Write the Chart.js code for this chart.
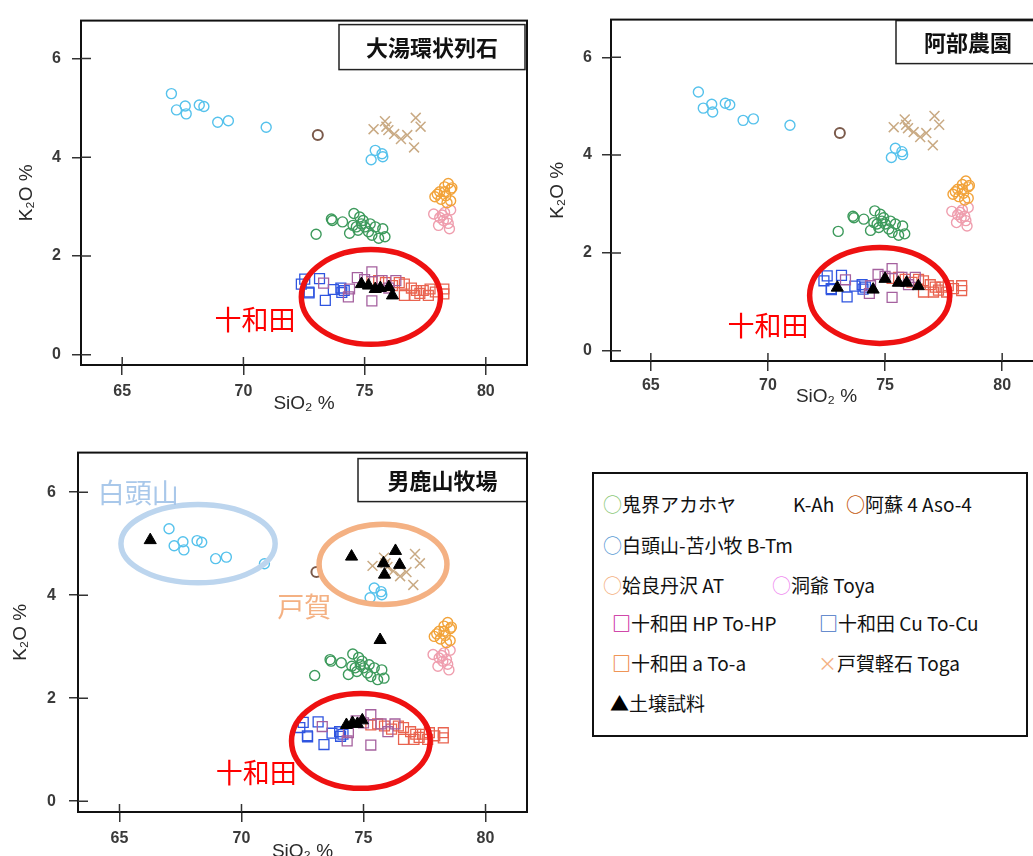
<!DOCTYPE html>
<html>
<head>
<meta charset="utf-8">
<script src="https://cdn.jsdelivr.net/npm/chart.js@4.4.1/dist/chart.umd.min.js"></script>
<style>
body { margin: 0; background: #fff; }
#page { position: relative; width: 1033px; height: 856px; overflow: hidden; background: #fff; }
canvas { position: absolute; }
#legend { position: absolute; left: 592px; top: 472px; width: 432px; height: 261px; border: 2px solid #111;
          font-family: "Noto Sans CJK JP"; font-size: 19px; color: #111; }
.item { position: absolute; white-space: pre; line-height: 40px; height: 40px; }
</style>
</head>
<body>
<div id="page">
  <canvas id="chart-oyu" width="540" height="420" style="left:0;top:0"></canvas>
  <canvas id="chart-abe" width="520" height="420" style="left:540px;top:0"></canvas>
  <canvas id="chart-oga" width="540" height="440" style="left:0;top:430px"></canvas>
  <div id="legend"></div>
</div>
<script>
// Tephra reference data [SiO2 %, K2O %] (same in all three plots)
var kAh = [[73.0, 2.44], [73.63, 2.75], [73.67, 2.72], [74.09, 2.69], [74.38, 2.46], [74.56, 2.86],
    [74.8, 2.79], [74.52, 2.62], [74.73, 2.52], [74.87, 2.65], [75.01, 2.59], [75.23, 2.65],
    [75.3, 2.42], [75.44, 2.59], [75.58, 2.36], [75.75, 2.55], [75.84, 2.39], [75.16, 2.49],
    [74.66, 2.59], [74.94, 2.72]];
var aso4 = [[73.07, 4.45]];
var bTm = [[67.03, 5.29], [67.24, 4.96], [67.6, 5.04], [67.64, 4.88], [68.18, 5.06], [68.37, 5.03],
    [68.94, 4.71], [69.38, 4.74], [70.94, 4.61], [75.27, 3.95], [75.44, 4.14], [75.72, 4.07], [75.75, 4.01]];
var at = [[77.9, 3.2], [78.1, 3.3], [78.3, 3.4], [78.45, 3.47], [78.55, 3.35], [78.35, 3.22],
    [78.15, 3.15], [78.55, 3.12], [78.3, 3.3], [78.6, 3.38], [78.0, 3.25], [78.4, 3.08]];
var toya = [[77.85, 2.85], [78.1, 2.78], [78.3, 2.88], [78.55, 2.93], [78.25, 2.72], [78.45, 2.66],
    [78.05, 2.62], [78.5, 2.55], [78.2, 2.83], [78.4, 2.75]];
var toHP = [[73.31, 1.45], [74.33, 1.17], [74.7, 1.56], [75.3, 1.68], [75.3, 1.09], [75.72, 1.5],
    [76.29, 1.5], [74.38, 1.33], [75.0, 1.52], [76.0, 1.35]];
var toCu = [[72.39, 1.43], [72.53, 1.53], [72.71, 1.25], [73.14, 1.54], [73.38, 1.1], [73.71, 1.32],
    [74.02, 1.35], [74.06, 1.26], [74.16, 1.3], [72.7, 1.27]];
var toA = [[75.3, 1.48], [75.58, 1.5], [75.86, 1.46], [76.15, 1.4], [76.43, 1.46], [76.64, 1.43],
    [76.64, 1.2], [76.93, 1.35], [77.14, 1.3], [77.28, 1.24], [77.42, 1.3], [77.63, 1.2],
    [77.7, 1.33], [77.92, 1.27], [78.27, 1.33], [78.27, 1.23], [77.07, 1.2]];
var toga = [[75.37, 4.57], [75.84, 4.73], [75.98, 4.55], [76.22, 4.47], [76.5, 4.37], [76.76, 4.45],
    [77.11, 4.8], [77.31, 4.62], [77.04, 4.2], [75.9, 4.62]];

// Soil samples for each site
var soilOyu = [[74.87, 1.43], [75.16, 1.4], [75.44, 1.33], [75.65, 1.35], [76.0, 1.37], [76.15, 1.2]];
var soilAbe = [[72.96, 1.29], [74.49, 1.25], [75.0, 1.47], [75.57, 1.39], [75.92, 1.39], [76.42, 1.32]];
var soilOga = [[66.26, 5.07], [74.51, 4.75], [75.82, 4.62], [76.31, 4.86], [76.48, 4.59], [75.86, 4.4],
    [75.68, 3.13], [74.3, 1.48], [74.55, 1.52], [74.75, 1.5], [74.95, 1.57]];

var seriesNames = ['鬼界アカホヤ　　　K-Ah', '阿蘇 4 Aso-4', '白頭山-苫小牧 B-Tm', '姶良丹沢 AT', '洞爺 Toya',
    '十和田 HP To-HP', '十和田 Cu To-Cu', '十和田 a To-a', '戸賀軽石 Toga', '土壌試料'];
var tephraData = [kAh, aso4, bTm, at, toya, toHP, toCu, toA, toga];

var xTickValues = [65, 70, 75, 80];
var yTickValues = [0, 2, 4, 6];
var xMin = 63.3, xMax = 81.7, yMin = -0.21, yMax = 6.77;

// marker styles in the plots
var plotStyle = [
    { shape: 'circle', color: '#3d9a5c', r: 5, w: 1.4 },
    { shape: 'circle', color: '#7b5a4b', r: 5, w: 2 },
    { shape: 'circle', color: '#56c2ec', r: 5, w: 1.4 },
    { shape: 'circle', color: '#f2a33a', r: 5, w: 1.4 },
    { shape: 'circle', color: '#ef9eae', r: 5, w: 1.4 },
    { shape: 'rect', color: '#a5619f', r: 7, w: 1.3 },
    { shape: 'rect', color: '#2f55e0', r: 7, w: 1.3 },
    { shape: 'rect', color: '#e9634f', r: 7, w: 1.3 },
    { shape: 'crossRot', color: '#c9aa84', r: 7, w: 1.5 },
    { shape: 'triangle', color: '#000000', r: 7, w: 1 }
];
// legend symbols, colours, weights and places
var legendMark = [['○', '#8cc97a', 'normal'], ['○', '#c55a11', 'bold'], ['○', '#5b9bd5', 'normal'],
    ['○', '#f4b183', 'normal'], ['○', '#f08cf0', 'normal'], ['□', '#c8159a', 'bold'], ['□', '#4472c4', 'bold'],
    ['□', '#ed7d31', 'bold'], ['×', '#f4b183', 'normal'], ['▲', '#000', 'normal']];
var legendPlace = [[9, 10], [252, 10], [9, 51], [9, 91], [178, 91], [18, 129], [225, 129], [18, 169], [224, 169], [16, 209]];

// ellipses, coloured words and name boxes for each plot
var noteSets = {
    'chart-oyu': {
        rings: [{ x: 75.26, y: 1.17, rx: 2.87, ry: 0.96, color: '#ee1111' }],
        words: [{ text: '十和田', x: 70.48, y: 0.71, color: '#ff0000' }],
        box: { text: '大湯環状列石', right: 2, top: 4, w: 186, h: 45 }
    },
    'chart-abe': {
        rings: [{ x: 74.77, y: 1.13, rx: 2.99, ry: 0.98, color: '#ee1111' }],
        words: [{ text: '十和田', x: 70.0, y: 0.51, color: '#ff0000' }],
        box: { text: '阿部農園', right: 2, top: 1, w: 144, h: 43 }
    },
    'chart-oga': {
        rings: [{ x: 74.89, y: 1.17, rx: 2.84, ry: 0.92, color: '#ee1111' },
            { x: 68.22, y: 5.0, rx: 3.16, ry: 0.76, color: '#bcd5ee' },
            { x: 75.8, y: 4.6, rx: 2.62, ry: 0.78, color: '#f4b183' }],
        words: [{ text: '十和田', x: 70.6, y: 0.56, color: '#ff0000' },
            { text: '白頭山', x: 65.77, y: 5.99, color: '#a9c8ea' },
            { text: '戸賀', x: 72.57, y: 3.77, color: '#f4b183' }],
        box: { text: '男鹿山牧場', right: 0, top: 6, w: 169, h: 43 }
    }
};

var framePlugin = {
    id: 'frame',
    afterDraw: function (chart) {
        var ctx = chart.ctx, a = chart.chartArea;
        ctx.save();
        ctx.strokeStyle = '#111';
        ctx.lineWidth = 2;
        ctx.strokeRect(a.left, a.top, a.right - a.left, a.bottom - a.top);
        // short tick parts inside the frame
        ctx.strokeStyle = '#333';
        ctx.lineWidth = 1.5;
        ctx.beginPath();
        xTickValues.forEach(function (v) {
            var px = chart.scales.x.getPixelForValue(v);
            ctx.moveTo(px, a.bottom); ctx.lineTo(px, a.bottom - 8);
        });
        yTickValues.forEach(function (v) {
            var py = chart.scales.y.getPixelForValue(v);
            ctx.moveTo(a.left, py); ctx.lineTo(a.left + 10, py);
        });
        ctx.stroke();
        ctx.restore();
    }
};

var notesPlugin = {
    id: 'notes',
    afterDatasetsDraw: function (chart) {
        var n = noteSets[chart.canvas.id];
        var ctx = chart.ctx, xs = chart.scales.x, ys = chart.scales.y, a = chart.chartArea;
        ctx.save();
        n.rings.forEach(function (r) {
            var cx = xs.getPixelForValue(r.x), cy = ys.getPixelForValue(r.y);
            var rx = Math.abs(xs.getPixelForValue(r.x + r.rx) - cx);
            var ry = Math.abs(ys.getPixelForValue(r.y + r.ry) - cy);
            ctx.beginPath();
            ctx.ellipse(cx, cy, rx, ry, 0, 0, Math.PI * 2);
            ctx.strokeStyle = r.color;
            ctx.lineWidth = 5.5;
            ctx.stroke();
        });
        ctx.textAlign = 'center';
        ctx.textBaseline = 'middle';
        ctx.font = '27px "Noto Sans CJK JP"';
        n.words.forEach(function (w) {
            ctx.fillStyle = w.color;
            ctx.fillText(w.text, xs.getPixelForValue(w.x), ys.getPixelForValue(w.y));
        });
        var b = n.box;
        var bx = a.right - b.right - b.w, by = a.top + b.top;
        ctx.fillStyle = '#fff';
        ctx.fillRect(bx, by, b.w, b.h);
        ctx.strokeStyle = '#222';
        ctx.lineWidth = 1.5;
        ctx.strokeRect(bx, by, b.w, b.h);
        ctx.fillStyle = '#111';
        ctx.font = 'bold 22px "Noto Sans CJK JP"';
        ctx.fillText(b.text, bx + b.w / 2, by + b.h / 2 + 1);
        ctx.restore();
    }
};

function toPoints(list) {
    return list.map(function (p) { return { x: p[0], y: p[1] }; });
}

function makeSet(i, list) {
    var s = plotStyle[i];
    return {
        label: seriesNames[i],
        data: toPoints(list),
        pointStyle: s.shape,
        pointRadius: s.r,
        pointBorderWidth: s.w,
        borderColor: s.color,
        backgroundColor: s.shape == 'triangle' ? s.color : 'rgba(0,0,0,0)',
        order: s.shape == 'triangle' ? 0 : 1
    };
}

function makeChart(id, soil, lay) {
    var datasets = [];
    for (var i = 0; i < tephraData.length; i++) {
        datasets.push(makeSet(i, tephraData[i]));
    }
    datasets.push(makeSet(9, soil));
    var tickFont = { family: 'Liberation Sans', size: 16, weight: 'bold' };
    var titleFont = { family: 'Liberation Sans', size: 19 };
    return new Chart(document.getElementById(id), {
        type: 'scatter',
        data: { datasets: datasets },
        options: {
            responsive: false,
            animation: false,
            layout: { padding: lay.pad },
            plugins: { legend: { display: false }, tooltip: { enabled: false } },
            scales: {
                x: {
                    type: 'linear', min: xMin, max: xMax,
                    afterFit: function (s) { s.height = lay.xh; },
                    afterBuildTicks: function (s) { s.ticks = xTickValues.map(function (v) { return { value: v }; }); },
                    grid: { drawOnChartArea: false, tickLength: 10, color: '#333', lineWidth: 1.5 },
                    border: { display: false },
                    ticks: { padding: lay.xtp, color: '#3a3a3a', font: tickFont },
                    title: { display: true, text: 'SiO₂ %', color: '#2a2a2a', font: titleFont, padding: { top: 0, bottom: lay.xtb } }
                },
                y: {
                    type: 'linear', min: yMin, max: yMax,
                    afterFit: function (s) { s.width = lay.yw; },
                    afterBuildTicks: function (s) { s.ticks = yTickValues.map(function (v) { return { value: v }; }); },
                    grid: { drawOnChartArea: false, tickLength: 9, color: '#333', lineWidth: 1.5 },
                    border: { display: false },
                    ticks: { padding: lay.ytp, color: '#3a3a3a', font: tickFont },
                    title: { display: true, text: 'K₂O %', color: '#2a2a2a', font: titleFont, padding: { top: lay.ytt, bottom: 0 } }
                }
            }
        },
        plugins: [notesPlugin, framePlugin]
    });
}

function buildLegend() {
    var box = document.getElementById('legend');
    for (var i = 0; i < seriesNames.length; i++) {
        var it = document.createElement('div');
        it.className = 'item';
        it.style.left = legendPlace[i][0] + 'px';
        it.style.top = legendPlace[i][1] + 'px';
        it.innerHTML = '<span style="color:' + legendMark[i][1] + ';font-weight:' + legendMark[i][2] + '">' +
            legendMark[i][0] + '</span>' + seriesNames[i];
        box.appendChild(it);
    }
}

makeChart('chart-oyu', soilOyu, { pad: { top: 13, right: 13, left: 0, bottom: 0 }, yw: 81, xh: 55, xtp: 7, xtb: 4.6, ytp: 11, ytt: 15.6 });
makeChart('chart-abe', soilAbe, { pad: { top: 19, right: 18, left: 0, bottom: 0 }, yw: 71, xh: 59, xtp: 5.4, xtb: 11.9, ytp: 10, ytt: 6.1 });
makeChart('chart-oga', soilOga, { pad: { top: 14, right: 13, left: 0, bottom: 0 }, yw: 78, xh: 58, xtp: 7.4, xtb: 6.6, ytp: 13, ytt: 9.3 });
buildLegend();
</script>
</body>
</html>
